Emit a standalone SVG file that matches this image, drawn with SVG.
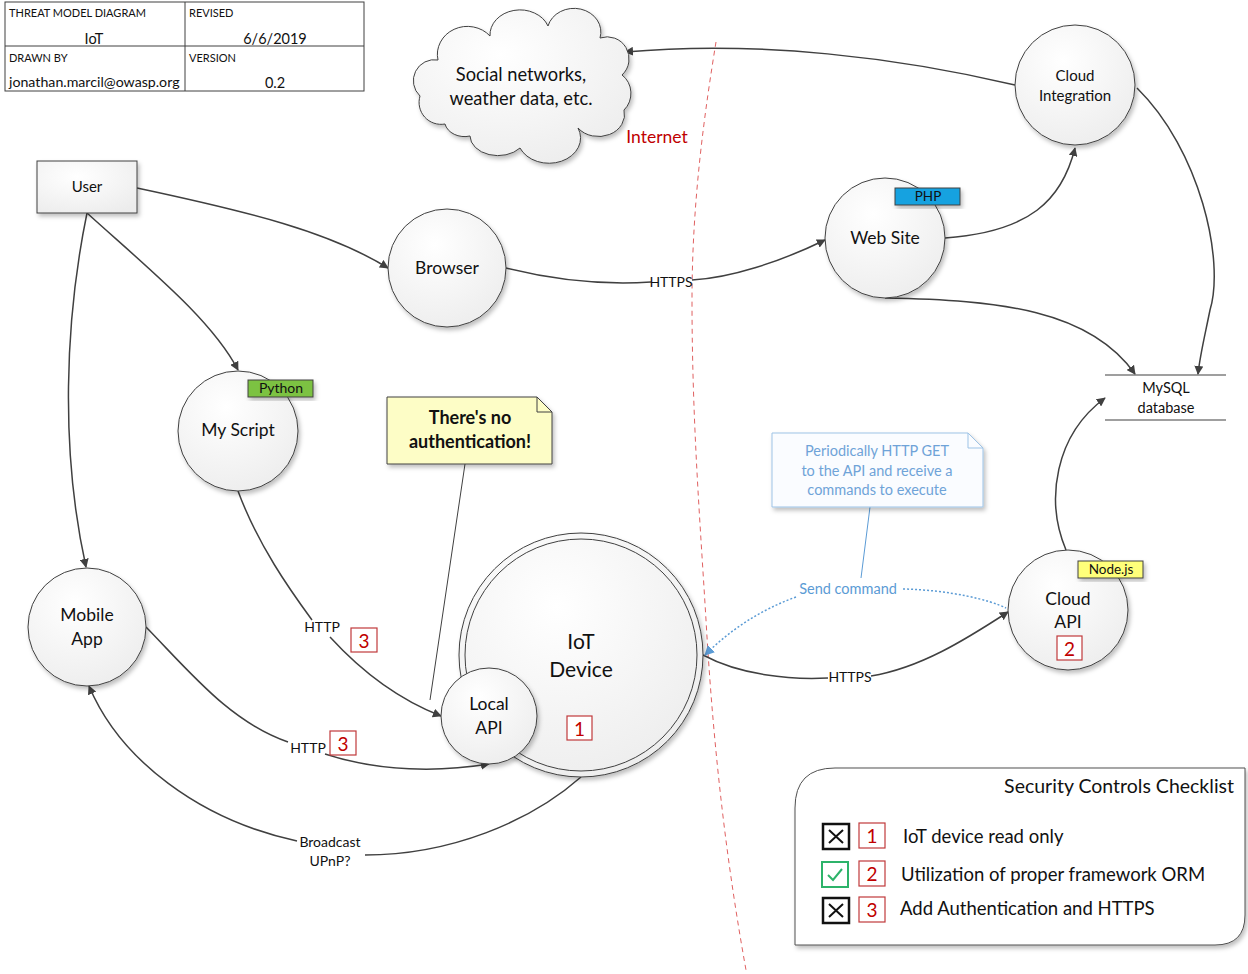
<svg xmlns="http://www.w3.org/2000/svg" width="1248" height="974" viewBox="0 0 1248 974">
  <defs>
    <radialGradient id="bubble" cx="0.4" cy="0.3" r="0.8">
      <stop offset="0" stop-color="#ffffff"/>
      <stop offset="1" stop-color="#ececec"/>
    </radialGradient>
    <filter id="shadow" x="-20%" y="-20%" width="140%" height="140%">
      <feDropShadow dx="2" dy="3" stdDeviation="2" flood-color="#000" flood-opacity="0.25"/>
    </filter>
    <marker id="arrow" viewBox="0 0 10 10" refX="9" refY="5" markerWidth="9" markerHeight="9" markerUnits="userSpaceOnUse" orient="auto">
      <path d="M0,0 L10,5 L0,10 Z" fill="#404040"/>
    </marker>
    <marker id="arrowBlue" viewBox="0 0 10 10" refX="9" refY="5" markerWidth="10" markerHeight="10" markerUnits="userSpaceOnUse" orient="auto">
      <path d="M0,0 L10,5 L0,10 Z" fill="#5b9bd5"/>
    </marker>
  </defs>
  <style>
    text { font-family: "Lato", "Open Sans", "Liberation Sans", sans-serif; fill: #111; }
    .node { fill: url(#bubble); stroke: #404040; stroke-width: 1; filter: url(#shadow); }
    .lbl { font-size: 17.5px; text-anchor: middle; }
    .flow { fill: none; stroke: #404040; stroke-width: 1.5; }
    .tbl { fill: #fff; stroke: #404040; stroke-width: 1; }
    .small { font-size: 11px; }
    .ctl { fill: #fff; stroke: #c0393b; stroke-width: 1.2; }
    .ctlnum { font-size: 19px; fill: #c00000; text-anchor: middle; }
    .edge { font-size: 14px; text-anchor: middle; }
    .badge { stroke: #404040; stroke-width: 1; filter: url(#shadow); }
    .blue { font-size: 14.5px; text-anchor: middle; fill: #6fa3d8; }
    .item { font-size: 18.5px; }
  </style>

  <rect width="1248" height="974" fill="#ffffff"/>

  <!-- title block -->
  <g id="title-block">
    <rect class="tbl" x="5" y="2" width="359" height="89"/>
    <line x1="185" y1="2" x2="185" y2="91" stroke="#404040"/>
    <line x1="5" y1="46" x2="364" y2="46" stroke="#404040"/>
    <text class="small" x="9" y="17">THREAT MODEL DIAGRAM</text>
    <text class="small" x="189" y="17">REVISED</text>
    <text x="94" y="44" font-size="14.5" text-anchor="middle">IoT</text>
    <text x="275" y="44" font-size="14.5" text-anchor="middle">6/6/2019</text>
    <text class="small" x="9" y="62">DRAWN BY</text>
    <text class="small" x="189" y="62">VERSION</text>
    <text x="9" y="87" font-size="14.2">jonathan.marcil@owasp.org</text>
    <text x="275" y="88" font-size="14.5" text-anchor="middle">0.2</text>
  </g>

  <!-- trust boundary -->
  <g id="trust-boundary">
    <path d="M716,42 C705,110 692,200 692,300 C692,420 700,520 706,620 C714,760 728,870 746,970" fill="none" stroke="#e06060" stroke-width="1" stroke-dasharray="5,4"/>
    <text x="657" y="143" font-size="17.5" text-anchor="middle" style="fill:#c00000">Internet</text>
  </g>

  <!-- connectors -->
  <g id="connectors">
    <path class="flow" d="M1015,85 C900,58 760,40 625,52" marker-end="url(#arrow)"/>
    <path class="flow" d="M1137,88 C1200,150 1225,260 1210,310 C1205,335 1200,355 1198,374" marker-end="url(#arrow)"/>
    <path class="flow" d="M945,238 C1030,232 1062,200 1075,148" marker-end="url(#arrow)"/>
    <path class="flow" d="M885,298 C1000,300 1090,310 1135,374" marker-end="url(#arrow)"/>
    <path class="flow" d="M1066,550 C1045,500 1055,435 1105,398" marker-end="url(#arrow)"/>
    <path class="flow" d="M137,188 C250,212 330,232 388,268" marker-end="url(#arrow)"/>
    <path class="flow" d="M506,268 C570,284 620,284 651,282"/>
    <path class="flow" d="M692,280 C730,278 780,262 825,240" marker-end="url(#arrow)"/>
    <path class="flow" d="M87,213 C150,270 212,320 238,370" marker-end="url(#arrow)"/>
    <path class="flow" d="M87,213 C65,320 60,450 86,567" marker-end="url(#arrow)"/>
    <path class="flow" d="M238,491 C258,545 290,590 312,620"/>
    <path class="flow" d="M330,637 C362,672 400,700 441,716" marker-end="url(#arrow)"/>
    <path class="flow" d="M146,627 C190,672 230,722 288,742"/>
    <path class="flow" d="M325,754 C380,772 440,772 489,764" marker-end="url(#arrow)"/>
    <path class="flow" d="M581,777 C530,822 450,855 365,855"/>
    <path class="flow" d="M297,841 C200,820 120,760 89,686" marker-end="url(#arrow)"/>
    <path class="flow" d="M703,655 C740,675 790,680 828,678"/>
    <path class="flow" d="M871,676 C920,668 965,640 1008,612" marker-end="url(#arrow)"/>
    <path d="M903,589 C950,590 990,600 1006,608" fill="none" stroke="#5b9bd5" stroke-width="1.5" stroke-dasharray="2,2"/>
    <path d="M796,597 C760,610 730,630 705,655" fill="none" stroke="#5b9bd5" stroke-width="1.5" stroke-dasharray="2,2" marker-end="url(#arrowBlue)"/>
    <line x1="465" y1="464" x2="430" y2="700" stroke="#404040" stroke-width="1"/>
    <line x1="870" y1="507" x2="861" y2="578" stroke="#5b9bd5" stroke-width="1"/>
    <text class="edge" x="671" y="287">HTTPS</text>
    <text class="edge" x="322" y="632">HTTP</text>
    <text class="edge" x="308" y="753">HTTP</text>
    <text class="edge" x="850" y="682">HTTPS</text>
    <text class="edge" x="330" y="847">Broadcast</text>
    <text class="edge" x="330" y="866">UPnP?</text>
    <text x="848" y="594" font-size="14.5" text-anchor="middle" style="fill:#5b9bd5">Send command</text>
    <rect class="ctl" x="351" y="628" width="26" height="24"/>
    <text class="ctlnum" x="364" y="648">3</text>
    <rect class="ctl" x="330" y="731" width="26" height="24"/>
    <text class="ctlnum" x="343" y="751">3</text>
  </g>

  <!-- external data cloud -->
  <g id="social-cloud">
    <path class="node" d="M445,124 A22,22 0 0 1 420,96 A21,21 0 0 1 438,60 A30,28 0 0 1 490,36 A30,25 0 0 1 548,26 A25,22 0 0 1 600,38 A22,22 0 0 1 622,75 A20,22 0 0 1 624,110 A26,22 0 0 1 578,128 A30,24 0 0 1 520,148 A28,20 0 0 1 470,136 A20,16 0 0 1 445,124 Z"/>
    <text x="521" y="81" font-size="18.3" text-anchor="middle">Social networks,</text>
    <text x="521" y="105" font-size="18.3" text-anchor="middle">weather data, etc.</text>
  </g>

  <g id="cloud-integration">
    <circle class="node" cx="1075" cy="85" r="60"/>
    <text x="1075" y="81" font-size="15" text-anchor="middle">Cloud</text>
    <text x="1075" y="101" font-size="15" text-anchor="middle">Integration</text>
  </g>

  <g id="web-site">
    <circle class="node" cx="885" cy="238" r="60"/>
    <text class="lbl" x="885" y="244">Web Site</text>
    <rect class="badge" x="895" y="188" width="65" height="17" fill="#12a2e0"/>
    <text x="928" y="201" font-size="13.5" text-anchor="middle">PHP</text>
  </g>

  <g id="browser">
    <circle class="node" cx="447" cy="268" r="59"/>
    <text class="lbl" x="447" y="274">Browser</text>
  </g>

  <g id="user">
    <rect x="37" y="161" width="100" height="52" fill="url(#bubble)" stroke="#404040" filter="url(#shadow)"/>
    <text x="87" y="192" font-size="15" text-anchor="middle">User</text>
  </g>

  <g id="my-script">
    <circle class="node" cx="238" cy="431" r="60"/>
    <text class="lbl" x="238" y="436">My Script</text>
    <rect class="badge" x="248" y="380" width="65" height="17" fill="#7cc242"/>
    <text x="281" y="393" font-size="14" text-anchor="middle">Python</text>
  </g>

  <g id="mobile-app">
    <circle class="node" cx="87" cy="627" r="59"/>
    <text class="lbl" x="87" y="621">Mobile</text>
    <text class="lbl" x="87" y="645">App</text>
  </g>

  <g id="iot-device">
    <circle class="node" cx="581" cy="655" r="122"/>
    <circle cx="581" cy="655" r="116" fill="none" stroke="#404040" stroke-width="1"/>
    <text x="581" y="649" font-size="21" text-anchor="middle">IoT</text>
    <text x="581" y="677" font-size="21" text-anchor="middle">Device</text>
    <rect class="ctl" x="567" y="716" width="25" height="24"/>
    <text class="ctlnum" x="579.5" y="736">1</text>
  </g>

  <g id="local-api">
    <circle class="node" cx="489" cy="716" r="48"/>
    <text class="lbl" x="489" y="710">Local</text>
    <text class="lbl" x="489" y="734">API</text>
  </g>

  <g id="cloud-api">
    <circle class="node" cx="1068" cy="610" r="60"/>
    <text class="lbl" x="1068" y="605">Cloud</text>
    <text class="lbl" x="1068" y="628">API</text>
    <rect class="ctl" x="1057" y="636" width="25" height="24"/>
    <text class="ctlnum" x="1069.5" y="656">2</text>
    <rect class="badge" x="1078" y="561" width="65" height="17" fill="#ffff7a"/>
    <text x="1111" y="574" font-size="13.5" text-anchor="middle">Node.js</text>
  </g>

  <g id="mysql-database">
    <line x1="1105" y1="375" x2="1226" y2="375" stroke="#404040" stroke-width="1.2"/>
    <line x1="1105" y1="420" x2="1226" y2="420" stroke="#404040" stroke-width="1.2"/>
    <text x="1166" y="393" font-size="14.5" text-anchor="middle">MySQL</text>
    <text x="1166" y="413" font-size="14.5" text-anchor="middle">database</text>
  </g>

  <g id="note-auth">
    <path d="M387,397 L537,397 L552,412 L552,464 L387,464 Z" fill="#fdfdc6" stroke="#404040" stroke-width="1" filter="url(#shadow)"/>
    <path d="M537,397 L537,412 L552,412" fill="none" stroke="#404040" stroke-width="1"/>
    <text x="470" y="424" font-size="18" font-weight="bold" text-anchor="middle">There's no</text>
    <text x="470" y="448" font-size="18" font-weight="bold" text-anchor="middle">authentication!</text>
  </g>

  <g id="note-polling">
    <path d="M772,433 L968,433 L983,448 L983,507 L772,507 Z" fill="#fafcff" stroke="#9dc3e6" stroke-width="1" filter="url(#shadow)"/>
    <path d="M968,433 L968,448 L983,448" fill="none" stroke="#9dc3e6" stroke-width="1"/>
    <text class="blue" x="877" y="456">Periodically HTTP GET</text>
    <text class="blue" x="877" y="476">to the API and receive a</text>
    <text class="blue" x="877" y="495">commands to execute</text>
  </g>

  <g id="checklist">
    <path d="M795,808 Q795,768 835,768 L1245,768 L1245,915 Q1245,945 1215,945 L795,945 Z" fill="#ffffff" stroke="#505050" stroke-width="1" filter="url(#shadow)"/>
    <text x="1234" y="793" font-size="19.5" text-anchor="end">Security Controls Checklist</text>

    <rect x="823" y="824" width="26" height="25" fill="#fff" stroke="#111" stroke-width="2.5"/>
    <path d="M829,830 L843,843 M843,830 L829,843" stroke="#111" stroke-width="2"/>
    <rect class="ctl" x="859" y="823" width="26" height="25"/>
    <text class="ctlnum" x="872" y="843">1</text>
    <text class="item" x="903" y="843">IoT device read only</text>

    <rect x="822" y="862" width="26" height="25" fill="#fff" stroke="#2db36a" stroke-width="2"/>
    <path d="M828,875 L833,880 L842,869" fill="none" stroke="#2db36a" stroke-width="2"/>
    <rect class="ctl" x="859" y="861" width="26" height="25"/>
    <text class="ctlnum" x="872" y="881">2</text>
    <text class="item" x="901" y="881">Utilization of proper framework ORM</text>

    <rect x="823" y="898" width="26" height="25" fill="#fff" stroke="#111" stroke-width="2.5"/>
    <path d="M829,904 L843,917 M843,904 L829,917" stroke="#111" stroke-width="2"/>
    <rect class="ctl" x="859" y="897" width="26" height="25"/>
    <text class="ctlnum" x="872" y="917">3</text>
    <text class="item" x="900" y="915">Add Authentication and HTTPS</text>
  </g>
</svg>
